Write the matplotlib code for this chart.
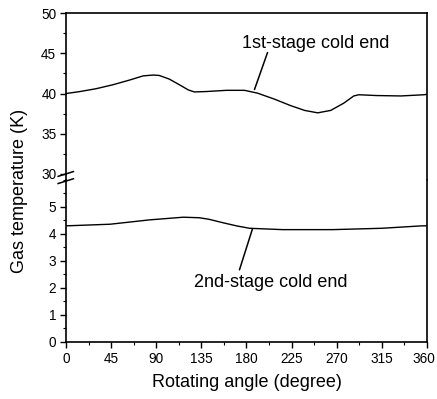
import numpy as np
import matplotlib
matplotlib.use('Agg')
import matplotlib.pyplot as plt
import matplotlib.transforms as mtransforms
from matplotlib.ticker import MultipleLocator

plt.rcParams['font.family'] = ['Liberation Sans', 'DejaVu Sans']

# 1st-stage cold end (upper panel)
angle1 = [0, 14, 30, 47, 64, 77, 87, 93, 103, 113, 122, 128, 140, 160, 178, 191, 208, 224, 238, 251,
          264, 277, 287, 292, 310, 334, 357, 360]
temp1 = [40.0, 40.25, 40.6, 41.1, 41.7, 42.2, 42.3, 42.25, 41.8, 41.1, 40.45, 40.2, 40.25, 40.4, 40.4,
         40.05, 39.3, 38.5, 37.9, 37.6, 37.9, 38.8, 39.7, 39.85, 39.75, 39.7, 39.85, 39.9]

# 2nd-stage cold end (lower panel)
angle2 = [0, 44, 83, 117, 133, 143, 156, 170, 183, 216, 266, 315, 355, 360]
temp2 = [4.30, 4.36, 4.52, 4.62, 4.60, 4.54, 4.42, 4.30, 4.21, 4.16, 4.16, 4.21, 4.30, 4.30]

xticks = [0, 45, 90, 135, 180, 225, 270, 315, 360]

fig = plt.figure(figsize=(4.37, 3.99), dpi=100)
left, width = 0.151, 0.826
brk = 0.549
ax_top = fig.add_axes([left, brk, width, 0.967 - brk])
ax_bot = fig.add_axes([left, 0.143, width, brk - 0.143])

ax_top.plot(angle1, temp1, color='black', lw=1.0)
ax_bot.plot(angle2, temp2, color='black', lw=1.0)

ax_top.set_ylim(29.25, 50)
ax_bot.set_ylim(0, 6)
for ax in (ax_top, ax_bot):
    ax.set_xlim(0, 360)
    for s in ax.spines.values():
        s.set_linewidth(1.2)
    ax.tick_params(which='major', length=4.5, width=1.0, labelsize=9.8, direction='out', pad=2.5)
    ax.tick_params(which='minor', length=2.5, width=0.8, direction='out')

ax_top.spines['bottom'].set_visible(False)
ax_bot.spines['top'].set_visible(False)

ax_top.set_yticks([30, 35, 40, 45, 50])
ax_top.yaxis.set_minor_locator(MultipleLocator(2.5))
ax_top.set_xticks([])
ax_top.tick_params(axis='x', which='both', bottom=False, labelbottom=False)

ax_bot.set_yticks([0, 1, 2, 3, 4, 5])
ax_bot.yaxis.set_minor_locator(MultipleLocator(0.5))
ax_bot.set_xticks(xticks)
ax_bot.xaxis.set_minor_locator(MultipleLocator(22.5))

# keep the last x label inside the figure
last = ax_bot.get_xticklabels()[-1]
last.set_transform(last.get_transform() + mtransforms.ScaledTranslation(-3 / 100, 0, fig.dpi_scale_trans))

ax_bot.set_xlabel('Rotating angle (degree)', fontsize=13, labelpad=6)
fig.text(0.045, 0.521, 'Gas temperature (K)', rotation=90, fontsize=13, ha='center', va='center')

# break marks on left spine
cy = 0.555
for off in (-0.009, 0.009):
    fig.add_artist(plt.Line2D([left - 0.018, left + 0.017], [cy + off - 0.006, cy + off + 0.006],
                              color='black', lw=1.1, transform=fig.transFigure))

# labels with leader lines
ax_top.text(176, 46.25, '1st-stage cold end', fontsize=13, ha='left', va='center')
ax_top.annotate('', xy=(188, 40.5), xytext=(201, 45.1),
                arrowprops=dict(arrowstyle='-', color='black', lw=1.1, shrinkA=0, shrinkB=0))
ax_bot.text(128, 2.19, '2nd-stage cold end', fontsize=13, ha='left', va='center')
ax_bot.annotate('', xy=(186, 4.19), xytext=(173, 2.67),
                arrowprops=dict(arrowstyle='-', color='black', lw=1.1, shrinkA=0, shrinkB=0))

fig.savefig('out.png', dpi=100)
